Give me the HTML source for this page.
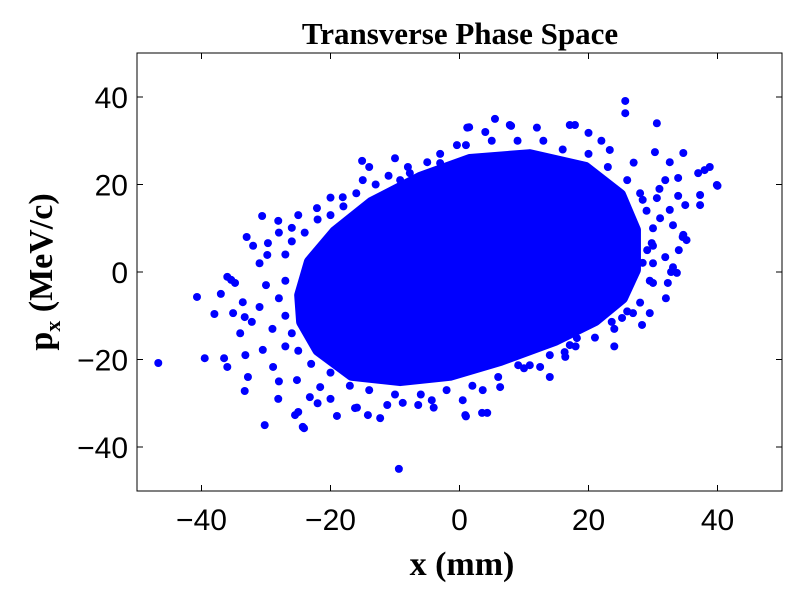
<!DOCTYPE html>
<html><head><meta charset="utf-8"><style>
body{margin:0;background:#fff}
svg text{font-family:"Liberation Sans",sans-serif}
</style></head><body>
<svg id="chart" width="800" height="600" xmlns="http://www.w3.org/2000/svg">
<rect width="800" height="600" fill="#fff"/>
<g id="marks"></g>
<rect x="137" y="53" width="645" height="438" fill="none" stroke="#000" stroke-width="1"/>
<g id="axes"></g>
<text x="460" y="44" text-anchor="middle" style="font-family:'Liberation Serif',serif;font-weight:bold;font-size:31px">Transverse Phase Space</text>
<text x="462" y="575" text-anchor="middle" style="font-family:'Liberation Serif',serif;font-weight:bold;font-size:34px">x (mm)</text>
<text transform="translate(52,272) rotate(-90)" text-anchor="middle" style="font-family:'Liberation Serif',serif;font-weight:bold;font-size:34px">p<tspan font-size="22" dy="8">x</tspan><tspan dy="-8"> (MeV/c)</tspan></text>
</svg>
<script>
const xTicks=[-40,-20,0,20,40];
const yTicks=[-40,-20,0,20,40];
const xTickLabels=["\u221240","\u221220","0","20","40"];
const yTickLabels=["\u221240","\u221220","0","20","40"];
const coreRegion=[[-24.7,-5.3],[-23.2,2.3],[-19.3,9.1],[-13.6,15.8],[-6.1,21.5],[1.6,25.6],[10.9,26.7],[19.5,23.8],[24.9,17.6],[27.2,9.6],[27.2,0.5],[25.2,-5.9],[21.0,-11.0],[14.8,-15.5],[6.3,-20.1],[-1.5,-23.5],[-9.2,-24.7],[-16.7,-23.5],[-21.9,-17.8],[-24.4,-11.4]];
const xVals=[-46.7,-9.4,-30.2,-24.1,-40.7,-39.5,40,25.7,25.7,30.6,5.5,1.2,8,-15.1,-30.6,34.6,35.2,32.8,29.5,17.1,16.3,3.5,1,-15.9,-12.3,-22,-35.4,-36,-33,-38,-25,-33.2,-36.5,37.3,37,38,23.3,20,17.9,12.6,
-28.1,-26.0,-22.1,-15.0,-18.1,-29.7,-29.8,-34.8,-33.6,-35.1,-33.3,-32.2,-36.0,-33.3,-32.8,-28.1,-25.5,-24.3,-19.0,-16.2,-14.2,-11.2,-8.8,-6.4,-4.3,-30.5,-28.9,-25.2,-23.2,-21.6,-9.2,-7.7,-5.0,-3.0,-0.4,
7.8,1.5,17.1,30.3,34.7,32.6,38.8,39.9,33.9,31.9,33.9,37.3,35.0,32.6,31.1,33.1,34.7,31.9,33.1,33.7,32.3,30.0,28.3,26.9,25.2,23.6,20.7,18.2,16.4,12.5,10.9,9.1,6.3,3.6,4.3,0.9,0.5,28.4,29.1,29.8,28.4,30.6,
-27,-28,-27,-26,-27,-26,-24,-22,-20,-18,-16,-13,-11,-8,-3,1,5,9,13,16,20,23,26,28,29,30,30,30,29.5,28,26,24,21,18,14,10,6,2,-2,-6,-10,-14,-17,-20,-23,-25,-27,-29,-31,-30,-31,-28,-25,-20,-14,-10,4,12,22,27,31,34,32,24,14,-4,-20,-28,-34,-37,-32];
const yVals=[-20.8,-45,-35,-35.7,-5.7,-19.7,19.7,39.1,36.3,34,35,33,33.4,25.4,12.8,8,7.3,0,-9.4,-16.7,-18.3,-32.2,-33,-31,-33.4,-30,-1.8,-1.1,8,-9.6,-32,-19,-19.7,15.3,22.6,23.3,27.9,31.8,33.6,26,
11.7,10.1,14.6,21.0,17.1,6.6,3.9,-2.5,-6.9,-9.4,-10.3,-11.4,-21.7,-27.2,-24.0,-29.0,-32.7,-35.4,-32.9,-31.1,-32.7,-30.4,-29.9,-30.4,-29.3,-17.8,-21.7,-24.7,-28.6,-26.3,21.0,22.6,25.1,24.9,29.0,
33.6,33.1,33.6,27.4,27.2,25.1,24.0,19.9,21.5,21.0,17.4,17.6,15.3,14.2,12.3,10.7,8.5,3.4,1.1,-0.2,-2.5,-2.5,-12.1,-9.4,-10.5,-11.4,-10.5,-15.1,-19.4,-21.7,-21.3,-21.3,-26.3,-27.0,-32.2,-32.7,-29.3,2.1,5.0,6.6,16.5,16.9,
-2,-6,-10,-14,4,7,9,12,13,15,18,20,22,24,27,29,30,30,30,28,27,24,21,18,14,10,6,2,-2,-7,-9,-13,-15,-17,-19,-22,-24,-26,-27,-28,-28,-27,-26,-23,-21,-18,-17,-13,-8,-3,2,9,13,17,24,26,32,33,30,25,19,5,-6,-17,-24,-31,-29,-25,-14,-5,6];
const X=v=>459.5+v*6.45, Y=v=>272-v*4.375;
const ns="http://www.w3.org/2000/svg";
const marks=document.getElementById('marks'), axes=document.getElementById('axes');
const poly=document.createElementNS(ns,'polygon');


poly.setAttribute('points',coreRegion.map(p=>X(p[0])+','+Y(p[1])).join(' '));
poly.setAttribute('fill','#0000ff');poly.setAttribute('stroke','#0000ff');poly.setAttribute('stroke-width','12');poly.setAttribute('stroke-linejoin','round');
marks.appendChild(poly);
for(let i=0;i<xVals.length;i++){const c=document.createElementNS(ns,'circle');


c.setAttribute('cx',X(xVals[i]));c.setAttribute('cy',Y(yVals[i]));c.setAttribute('r',4);c.setAttribute('fill','#0000ff');marks.appendChild(c);}
xTicks.forEach((t,i)=>{
 [[491,-6],[53,6]].forEach(([y0,d])=>{const l=document.createElementNS(ns,'line');
 
 
 l.setAttribute('x1',X(t));l.setAttribute('x2',X(t));l.setAttribute('y1',y0);l.setAttribute('y2',y0+d);l.setAttribute('stroke','#000');axes.appendChild(l);});
 const tx=document.createElementNS(ns,'text');
 
 
 tx.setAttribute('x',X(t));tx.setAttribute('y',530);tx.setAttribute('text-anchor','middle');tx.setAttribute('font-size','30');tx.textContent=xTickLabels[i];axes.appendChild(tx);});
yTicks.forEach((t,i)=>{
 [[137,6],[782,-6]].forEach(([x0,d])=>{const l=document.createElementNS(ns,'line');
 
 
 l.setAttribute('x1',x0);l.setAttribute('x2',x0+d);l.setAttribute('y1',Y(t));l.setAttribute('y2',Y(t));l.setAttribute('stroke','#000');axes.appendChild(l);});
 const tx=document.createElementNS(ns,'text');
 
 
 tx.setAttribute('x',128);tx.setAttribute('y',Y(t)+11);tx.setAttribute('text-anchor','end');tx.setAttribute('font-size','30');tx.textContent=yTickLabels[i];axes.appendChild(tx);});
</script>
</body></html>
